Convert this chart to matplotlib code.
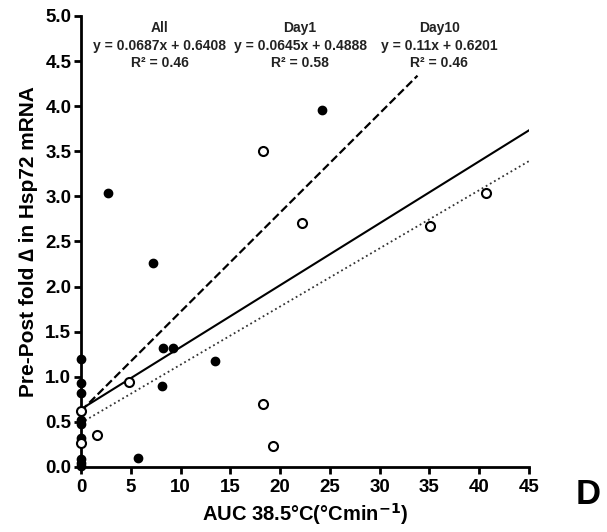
import numpy as np
import matplotlib.pyplot as plt

plt.rcParams['font.family'] = ['Liberation Sans', 'DejaVu Sans']
plt.rcParams['font.weight'] = 'bold'

# filled circles
filled_x = [0, 0, 0, 0, 0, 0, 0, 0, 0, 2.7, 7.2, 24.2, 8.25, 9.27, 13.5, 8.1, 5.76]
filled_y = [1.2, 0.93, 0.82, 0.52, 0.48, 0.32, 0.09, 0.04, 0.01, 3.04, 2.26, 3.96, 1.32, 1.32, 1.175, 0.90, 0.10]

# open circles
open_x = [0, 0, 18.3, 22.25, 35.1, 40.7, 4.82, 1.57, 18.3, 19.25]
open_y = [0.62, 0.27, 3.50, 2.71, 2.67, 3.04, 0.946, 0.355, 0.695, 0.233]

# trendlines (slope, intercept, x end)
fit_names = ['All', 'Day1', 'Day10']
fit_slope = [0.0687, 0.0645, 0.11]
fit_icpt = [0.6408, 0.4888, 0.6201]
fit_r2 = [0.46, 0.58, 0.46]
fit_xend = [45, 45, 33.8]
fit_style = ['-', ':', '--']
fit_lw = [1.5, 1.3, 1.6]
fit_color = ['black', '#333333', 'black']
label_x = [7.9, 22.0, 36.0]

fig = plt.figure(figsize=(6.07, 5.32), dpi=100)
ax = fig.add_axes([0.1334, 0.1222, 0.7381, 0.8478])

for m, b, xe, ls, lw, c in zip(fit_slope, fit_icpt, fit_xend, fit_style, fit_lw, fit_color):
    xs = np.array([0, xe])
    ax.plot(xs, m * xs + b, ls=ls, lw=lw, color=c, zorder=2)

ax.plot(filled_x, filled_y, 'o', ms=6, color='black', clip_on=False, zorder=3)
ax.plot(open_x, open_y, 'o', ms=6.5, mfc='white', mec='black', mew=1.5, clip_on=False, zorder=4)

for name, m, b, r2, lx in zip(fit_names, fit_slope, fit_icpt, fit_r2, label_x):
    ax.text(lx, 4.67, f"{name}\ny = {m}x + {b}\nR² = {r2}", ha='center', va='center',
            fontsize=10, fontweight='bold', color='#222222', linespacing=1.3)

ax.set_xlim(0, 45)
ax.set_ylim(0, 5)
ax.set_xticks(np.arange(0, 46, 5))
ax.set_yticks(np.arange(0, 5.01, 0.5))
ax.set_yticklabels([f"{v:.1f}" for v in np.arange(0, 5.01, 0.5)])
ax.tick_params(direction='out', length=5, width=2, labelsize=13.5)
ax.tick_params(axis='y', pad=2)
ax.tick_params(axis='x', pad=4)
for lab in ax.get_xticklabels() + ax.get_yticklabels():
    lab.set_fontweight('bold')
for s in ['top', 'right']:
    ax.spines[s].set_visible(False)
for s in ['left', 'bottom']:
    ax.spines[s].set_linewidth(2)

ax.set_xlabel("AUC 38.5°C(°Cmin$^{\\mathbf{-1}}$)", fontsize=14.5, fontweight='bold', labelpad=3)
ax.set_ylabel("Pre-Post fold ∆ in Hsp72 mRNA", fontsize=15, fontweight='bold', labelpad=5)

fig.text(0.969, 0.070, "D", fontsize=25, fontweight='bold', ha='center', va='center')

fig.savefig("out.png", dpi=100)
